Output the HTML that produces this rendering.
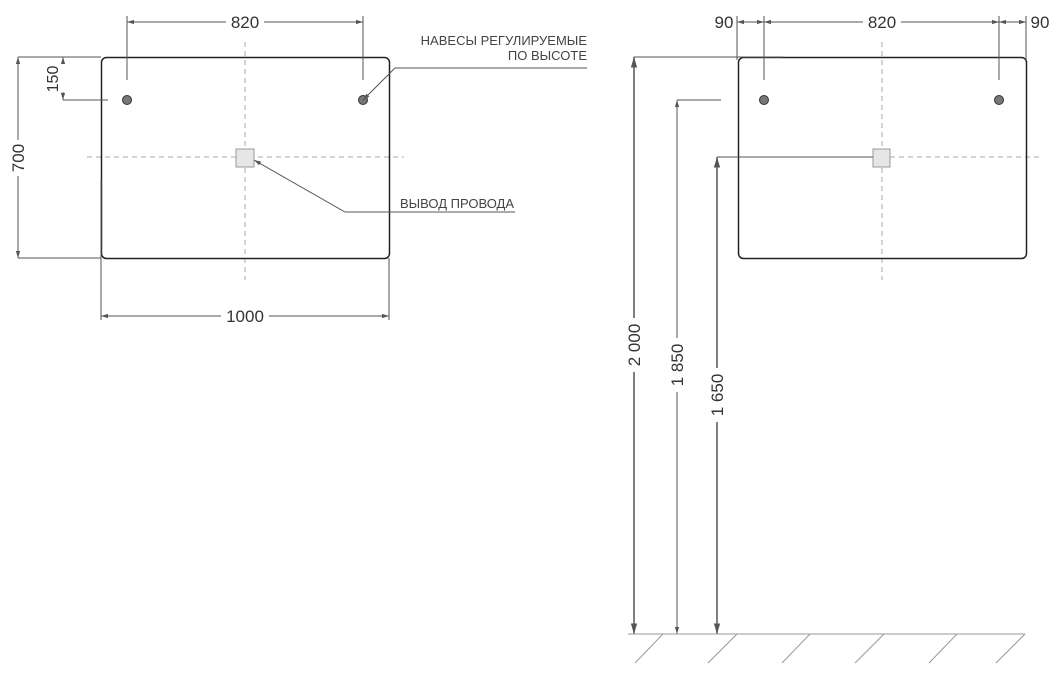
<!DOCTYPE html>
<html><head><meta charset="utf-8"><style>html,body{margin:0;padding:0;background:#fff}svg{display:block}</style></head><body>
<svg width="1058" height="688" viewBox="0 0 1058 688" xmlns="http://www.w3.org/2000/svg" font-family="Liberation Sans, sans-serif">
<defs>
<marker id="a" viewBox="0 0 10 10" refX="10" refY="5" markerWidth="7" markerHeight="7" orient="auto-start-reverse"><path d="M0,2 L10,5 L0,8 z" fill="#555"/></marker>
</defs>
<g fill="none" stroke="#aaa" stroke-width="1" stroke-dasharray="5,4">
<line x1="245" y1="42" x2="245" y2="280"/>
<line x1="87" y1="157" x2="404" y2="157"/>
<line x1="882" y1="42" x2="882" y2="280"/>
<line x1="890" y1="157" x2="1042" y2="157"/>
</g>
<rect x="101.5" y="57.5" width="288" height="201" rx="5" fill="none" stroke="#222" stroke-width="1.5"/>
<circle cx="127" cy="100" r="4.5" fill="#777" stroke="#333"/>
<circle cx="363" cy="100" r="4.5" fill="#777" stroke="#333"/>
<rect x="236" y="149" width="18" height="18" fill="#e6e6e6" stroke="#999"/>
<g stroke="#555" stroke-width="1" fill="none">
<line x1="127" y1="22" x2="363" y2="22" marker-start="url(#a)" marker-end="url(#a)"/>
<line x1="127" y1="16" x2="127" y2="80"/><line x1="363" y1="16" x2="363" y2="80"/>
<line x1="18" y1="57" x2="101" y2="57"/><line x1="18" y1="258" x2="101" y2="258"/>
<line x1="18" y1="57" x2="18" y2="258" marker-start="url(#a)" marker-end="url(#a)"/>
<line x1="63" y1="57" x2="63" y2="100" marker-start="url(#a)" marker-end="url(#a)"/>
<line x1="63" y1="100" x2="108" y2="100"/>
<line x1="101" y1="180" x2="101" y2="320"/><line x1="389" y1="258" x2="389" y2="320"/>
<line x1="101" y1="316" x2="389" y2="316" marker-start="url(#a)" marker-end="url(#a)"/>
<polyline points="587,68 395,68 363,100" marker-end="url(#a)"/>
<polyline points="515,212 345,212 254,160" marker-end="url(#a)"/>
</g>
<g fill="#333" font-size="17" text-anchor="middle">
<rect x="226" y="12" width="38" height="18" fill="#fff"/>
<text x="245" y="28">820</text>
<rect x="221" y="306" width="48" height="18" fill="#fff"/>
<text x="245" y="322">1000</text>
<rect x="8" y="140" width="20" height="36" fill="#fff"/>
<text transform="translate(24,158) rotate(-90)">700</text>
<rect x="50" y="64" width="20" height="28" fill="#fff"/>
<text transform="translate(58,79) rotate(-90)" font-size="16">150</text>
</g>
<g fill="#444" font-size="13" text-anchor="end">
<text x="587" y="45">НАВЕСЫ РЕГУЛИРУЕМЫЕ</text>
<text x="587" y="60">ПО ВЫСОТЕ</text>
<text x="514" y="208">ВЫВОД ПРОВОДА</text>
</g>
<rect x="738.5" y="57.5" width="288" height="201" rx="5" fill="none" stroke="#222" stroke-width="1.5"/>
<circle cx="764" cy="100" r="4.5" fill="#777" stroke="#333"/>
<circle cx="999" cy="100" r="4.5" fill="#777" stroke="#333"/>
<rect x="873" y="149" width="17" height="18" fill="#e6e6e6" stroke="#999"/>
<g stroke="#555" stroke-width="1" fill="none">
<line x1="737" y1="16" x2="737" y2="60"/><line x1="764" y1="16" x2="764" y2="80"/>
<line x1="999" y1="16" x2="999" y2="80"/><line x1="1026" y1="16" x2="1026" y2="60"/>
<line x1="737" y1="22" x2="764" y2="22" marker-start="url(#a)" marker-end="url(#a)"/>
<line x1="764" y1="22" x2="999" y2="22" marker-start="url(#a)" marker-end="url(#a)"/>
<line x1="999" y1="22" x2="1026" y2="22" marker-start="url(#a)" marker-end="url(#a)"/>
<line x1="634" y1="57" x2="783" y2="57"/>
<line x1="677" y1="100" x2="721" y2="100"/>
<line x1="717" y1="157" x2="873" y2="157"/>
<line x1="634" y1="57" x2="634" y2="634" marker-start="url(#a)" marker-end="url(#a)" stroke-width="1.5"/>
<line x1="677" y1="100" x2="677" y2="634" marker-start="url(#a)" marker-end="url(#a)"/>
<line x1="717" y1="157" x2="717" y2="634" marker-start="url(#a)" marker-end="url(#a)" stroke-width="1.5"/>
</g>
<g stroke="#999" stroke-width="1">
<line x1="628" y1="634" x2="1025" y2="634"/>
<line x1="663" y1="634" x2="635" y2="663"/>
<line x1="737" y1="634" x2="708" y2="663"/>
<line x1="810" y1="634" x2="782" y2="663"/>
<line x1="884" y1="634" x2="855" y2="663"/>
<line x1="957" y1="634" x2="929" y2="663"/>
<line x1="1025" y1="634" x2="996" y2="663"/>
</g>
<g fill="#333" font-size="17" text-anchor="middle">
<rect x="863" y="12" width="38" height="18" fill="#fff"/>
<text x="882" y="28">820</text>
<text x="724" y="28">90</text>
<text x="1040" y="28">90</text>
<rect x="624" y="318" width="20" height="54" fill="#fff"/>
<text transform="translate(640,345) rotate(-90)">2 000</text>
<rect x="667" y="338" width="20" height="54" fill="#fff"/>
<text transform="translate(683,365) rotate(-90)">1 850</text>
<rect x="707" y="368" width="20" height="54" fill="#fff"/>
<text transform="translate(723,395) rotate(-90)">1 650</text>
</g>
</svg>
</body></html>
